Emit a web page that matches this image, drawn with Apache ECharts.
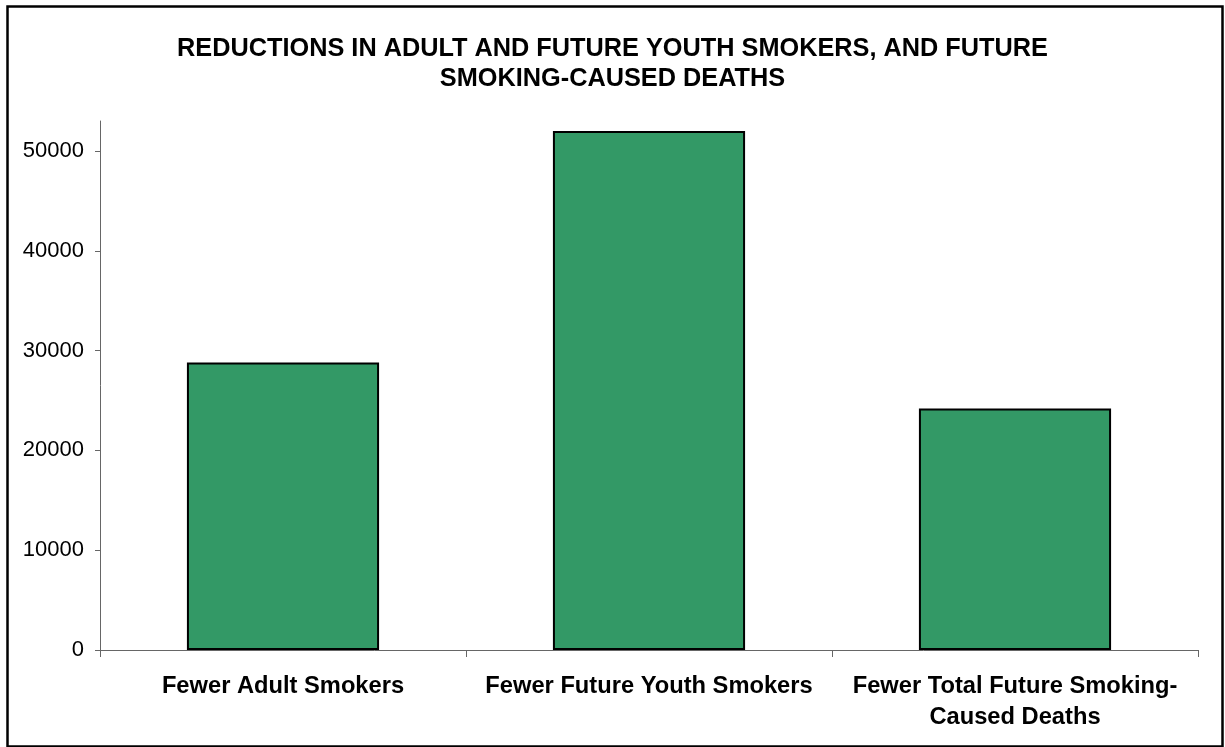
<!DOCTYPE html>
<html>
<head>
<meta charset="utf-8">
<script src="https://cdn.jsdelivr.net/npm/echarts@6/dist/echarts.min.js"></script>
<style>html,body{margin:0;padding:0;background:#fff;}#c{width:1225px;height:747px;}</style>
</head>
<body>
<div id="c"></div>
<script>
const titleText = 'REDUCTIONS IN ADULT AND FUTURE YOUTH SMOKERS, AND FUTURE\nSMOKING-CAUSED DEATHS';
const categories = ['Fewer Adult Smokers', 'Fewer Future Youth Smokers', 'Fewer Total Future Smoking-\nCaused Deaths'];
const values = [28800, 52000, 24200];
const yTicks = [0, 10000, 20000, 30000, 40000, 50000];

const chart = echarts.init(document.getElementById('c'), null, {renderer: 'canvas'});
chart.setOption({
  backgroundColor: '#ffffff',
  animation: false,
  title: {
    text: titleText,
    left: 'center',
    top: 29,
    textStyle: {fontFamily: 'Liberation Sans, Arial', fontWeight: 'bold', fontSize: 25.3, lineHeight: 30, color: '#000'}
  },
  graphic: [{
    type: 'rect', left: 5, top: 4, silent: true,
    shape: {width: 1215, height: 740},
    style: {fill: 'none', stroke: '#000', lineWidth: 2.5}
  }],
  grid: {left: 100, right: 27, top: 121, bottom: 97, containLabel: false},
  xAxis: {
    type: 'category',
    data: categories,
    axisLine: {lineStyle: {color: '#666', width: 1}},
    axisTick: {show: true, alignWithLabel: false, length: 7, lineStyle: {color: '#666'}},
    axisLabel: {interval: 0, margin: 21, fontFamily: 'Liberation Sans, Arial', fontWeight: 'bold', fontSize: 23.7, lineHeight: 31, color: '#000'},
    splitLine: {show: false}
  },
  yAxis: {
    type: 'value',
    min: 0, max: 53000, interval: 10000,
    axisLine: {show: true, lineStyle: {color: '#666', width: 1}},
    axisTick: {show: true, length: 5, inside: false, customValues: yTicks, lineStyle: {color: '#666'}},
    axisLabel: {customValues: yTicks, margin: 16, formatter: v => String(v), fontFamily: 'Liberation Sans, Arial', fontSize: 22, color: '#000'},
    splitLine: {show: false}
  },
  series: [{
    type: 'bar',
    data: values,
    barCategoryGap: '47.5%',
    itemStyle: {color: '#339966', borderColor: '#000', borderWidth: 2}
  }]
});
</script>
</body>
</html>
